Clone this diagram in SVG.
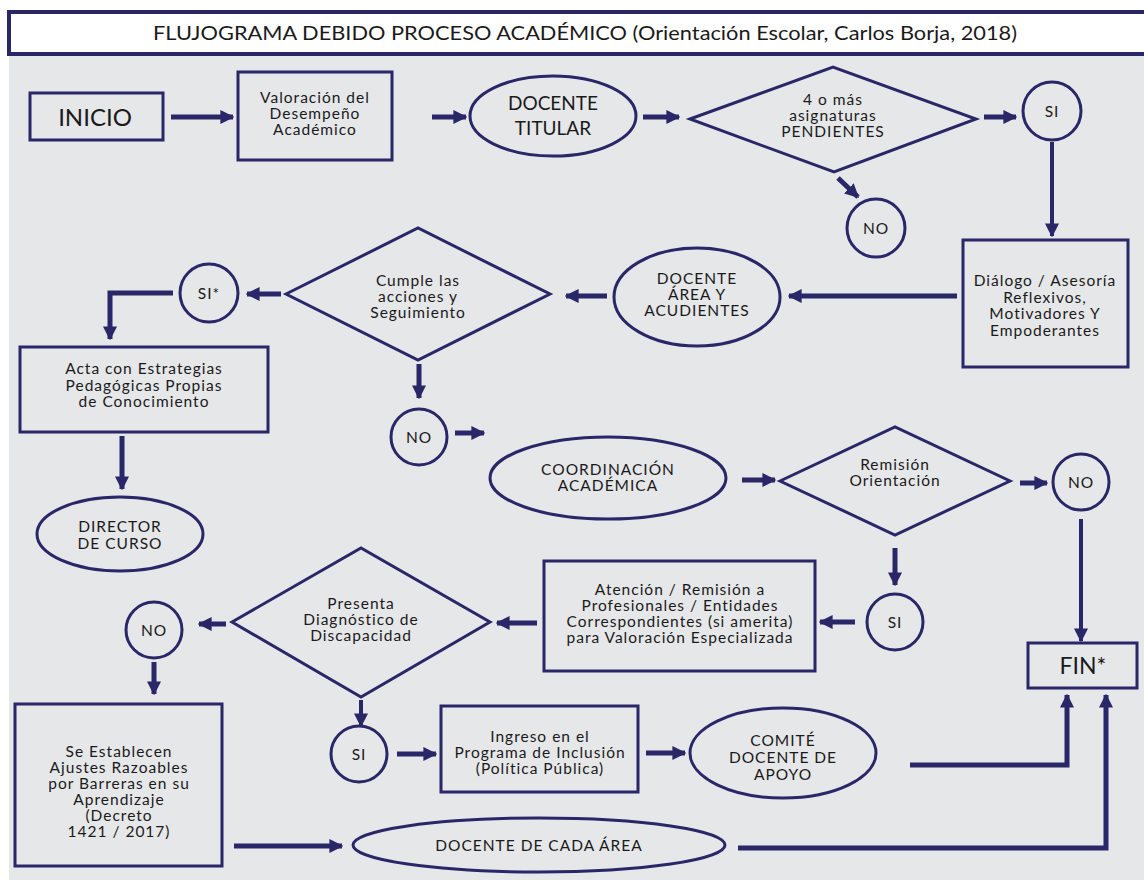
<svg xmlns="http://www.w3.org/2000/svg" width="1144" height="880" viewBox="0 0 1144 880">
<style>
.n{fill:none;stroke:#2a2768;stroke-width:3}
.t{font-family:Lato,"Open Sans","Liberation Sans",sans-serif;font-size:15.5px;letter-spacing:1px;fill:#1a1a1a;text-anchor:middle}
.b{font-size:19px;letter-spacing:0}
.c{fill:none;stroke:#2a2768;stroke-width:5}
.c4{fill:none;stroke:#2a2768;stroke-width:4}
</style>
<defs>
<marker id="a" viewBox="0 0 10 10" refX="9" refY="5" markerUnits="userSpaceOnUse" markerWidth="14" markerHeight="14" orient="auto"><path d="M0,0 L10,5 L0,10 z" fill="#2a2768"/></marker>
</defs>
<rect x="0" y="0" width="1144" height="880" fill="#ffffff"/>
<rect x="9" y="54" width="1140" height="830" fill="#e6e7e9"/>
<g id="title">
<rect x="9" y="12" width="1140" height="42" fill="#ffffff" stroke="#2a2768" stroke-width="4"/>
<text x="585" y="40" class="t" style="font-size:20px;letter-spacing:0" textLength="864" lengthAdjust="spacingAndGlyphs">FLUJOGRAMA DEBIDO PROCESO ACADÉMICO (Orientación Escolar, Carlos Borja, 2018)</text>
</g>
<g id="connectors">
<line x1="171" y1="117" x2="233" y2="117" class="c" marker-end="url(#a)"/>
<line x1="432" y1="117" x2="466" y2="117" class="c" marker-end="url(#a)"/>
<line x1="643" y1="117" x2="679" y2="117" class="c" marker-end="url(#a)"/>
<line x1="984" y1="117" x2="1016" y2="117" class="c" marker-end="url(#a)"/>
<line x1="838" y1="178" x2="858" y2="197" class="c" marker-end="url(#a)"/>
<line x1="1052" y1="142" x2="1052" y2="236" class="c4" marker-end="url(#a)"/>
<line x1="957" y1="296" x2="789" y2="296" class="c" marker-end="url(#a)"/>
<line x1="607" y1="296" x2="566" y2="296" class="c" marker-end="url(#a)"/>
<line x1="281" y1="294" x2="247" y2="294" class="c" marker-end="url(#a)"/>
<polyline points="173,293 110,293 110,339" class="c" marker-end="url(#a)"/>
<line x1="419" y1="364" x2="419" y2="398" class="c" marker-end="url(#a)"/>
<line x1="122" y1="436" x2="122" y2="489" class="c" marker-end="url(#a)"/>
<line x1="455" y1="433" x2="484" y2="433" class="c" marker-end="url(#a)"/>
<line x1="742" y1="480" x2="775" y2="480" class="c" marker-end="url(#a)"/>
<line x1="1020" y1="483" x2="1047" y2="483" class="c" marker-end="url(#a)"/>
<line x1="1081" y1="519" x2="1081" y2="641" class="c4" marker-end="url(#a)"/>
<line x1="895" y1="548" x2="895" y2="585" class="c" marker-end="url(#a)"/>
<line x1="855" y1="622" x2="820" y2="622" class="c" marker-end="url(#a)"/>
<line x1="537" y1="623" x2="497" y2="623" class="c" marker-end="url(#a)"/>
<line x1="226" y1="624" x2="199" y2="624" class="c" marker-end="url(#a)"/>
<line x1="154" y1="662" x2="154" y2="694" class="c" marker-end="url(#a)"/>
<line x1="361" y1="700" x2="361" y2="726" class="c4" marker-end="url(#a)"/>
<line x1="397" y1="754" x2="436" y2="754" class="c" marker-end="url(#a)"/>
<line x1="646" y1="753" x2="685" y2="753" class="c" marker-end="url(#a)"/>
<polyline points="910,765 1067,765 1067,695" class="c" marker-end="url(#a)"/>
<line x1="234" y1="846" x2="342" y2="846" class="c" marker-end="url(#a)"/>
<polyline points="738,848 1106,848 1106,695" class="c" marker-end="url(#a)"/>
</g>
<g id="inicio"><rect x="30" y="93" width="133" height="47" class="n"/><text x="95" y="126" class="t" style="font-size:24px;letter-spacing:0">INICIO</text></g>
<g id="valoracion"><rect x="238" y="72" width="154" height="88" class="n"/><text class="t" x="315"><tspan x="315" y="103">Valoración del</tspan><tspan x="315" y="119">Desempeño</tspan><tspan x="315" y="135">Académico</tspan></text></g>
<g id="docente-titular"><ellipse cx="553" cy="116" rx="83" ry="40" class="n"/><text class="t b" x="553"><tspan x="553" y="110">DOCENTE</tspan><tspan x="553" y="135">TITULAR</tspan></text></g>
<g id="dec-pendientes"><polygon points="690,119 833,67 976,119 834,172" class="n"/><text class="t" x="833"><tspan x="833" y="105">4 o más</tspan><tspan x="833" y="121">asignaturas</tspan><tspan x="833" y="137">PENDIENTES</tspan></text></g>
<g id="si1"><circle cx="1052" cy="111" r="29" class="n"/><text x="1052" y="117" class="t">SI</text></g>
<g id="no1"><circle cx="876" cy="228" r="29" class="n"/><text x="876" y="234" class="t">NO</text></g>
<g id="dialogo"><rect x="963" y="240" width="165" height="127" class="n"/><text class="t" x="1045"><tspan x="1045" y="286">Diálogo / Asesoría</tspan><tspan x="1045" y="302.5">Reflexivos,</tspan><tspan x="1045" y="319">Motivadores Y</tspan><tspan x="1045" y="335.5">Empoderantes</tspan></text></g>
<g id="docente-area"><ellipse cx="697" cy="297" rx="83" ry="49" class="n"/><text class="t" x="697"><tspan x="697" y="284">DOCENTE</tspan><tspan x="697" y="300">ÁREA Y</tspan><tspan x="697" y="316">ACUDIENTES</tspan></text></g>
<g id="dec-cumple"><polygon points="286,294 418,228 550,294 418,360" class="n"/><text class="t" x="418"><tspan x="418" y="286">Cumple las</tspan><tspan x="418" y="302">acciones y</tspan><tspan x="418" y="318">Seguimiento</tspan></text></g>
<g id="si-star"><circle cx="209" cy="293" r="29" class="n"/><text x="209" y="299" class="t">SI*</text></g>
<g id="acta"><rect x="20" y="347" width="248" height="85" class="n"/><text class="t" x="144"><tspan x="144" y="374">Acta con Estrategias</tspan><tspan x="144" y="390.5">Pedagógicas Propias</tspan><tspan x="144" y="407">de Conocimiento</tspan></text></g>
<g id="director"><ellipse cx="120" cy="534" rx="83" ry="37" class="n"/><text class="t" x="120"><tspan x="120" y="532">DIRECTOR</tspan><tspan x="120" y="549">DE CURSO</tspan></text></g>
<g id="no2"><circle cx="419" cy="437" r="28" class="n"/><text x="419" y="443" class="t">NO</text></g>
<g id="coordinacion"><ellipse cx="608" cy="478" rx="118" ry="41" class="n"/><text class="t" x="608"><tspan x="608" y="475">COORDINACIÓN</tspan><tspan x="608" y="491">ACADÉMICA</tspan></text></g>
<g id="dec-remision"><polygon points="780,481 895,427 1010,481 895,535" class="n"/><text class="t" x="895"><tspan x="895" y="470">Remisión</tspan><tspan x="895" y="486">Orientación</tspan></text></g>
<g id="no3"><circle cx="1081" cy="482" r="28" class="n"/><text x="1081" y="488" class="t">NO</text></g>
<g id="fin"><rect x="1028" y="643" width="109" height="45" class="n"/><text x="1083" y="674" class="t" style="font-size:23px;letter-spacing:0">FIN*</text></g>
<g id="si2"><circle cx="895" cy="622" r="28" class="n"/><text x="895" y="628" class="t">SI</text></g>
<g id="atencion"><rect x="544" y="561" width="271" height="110" class="n"/><text class="t" x="680"><tspan x="680" y="595">Atención /  Remisión a</tspan><tspan x="680" y="611">Profesionales / Entidades</tspan><tspan x="680" y="627">Correspondientes (si amerita)</tspan><tspan x="680" y="643">para Valoración Especializada</tspan></text></g>
<g id="dec-diagnostico"><polygon points="232,622 361,548 490,622 361,697" class="n"/><text class="t" x="361"><tspan x="361" y="609">Presenta</tspan><tspan x="361" y="625">Diagnóstico de</tspan><tspan x="361" y="641">Discapacidad</tspan></text></g>
<g id="no4"><circle cx="154" cy="630" r="28" class="n"/><text x="154" y="636" class="t">NO</text></g>
<g id="ajustes"><rect x="15" y="704" width="207" height="162" class="n"/><text class="t" x="119"><tspan x="119" y="757">Se Establecen</tspan><tspan x="119" y="773">Ajustes Razoables</tspan><tspan x="119" y="789">por Barreras en su</tspan><tspan x="119" y="805">Aprendizaje</tspan><tspan x="119" y="821">(Decreto</tspan><tspan x="119" y="837">1421 / 2017)</tspan></text></g>
<g id="si3"><circle cx="359" cy="754" r="28" class="n"/><text x="359" y="760" class="t">SI</text></g>
<g id="ingreso"><rect x="441" y="706" width="197" height="86" class="n"/><text class="t" x="540"><tspan x="540" y="742">Ingreso en el</tspan><tspan x="540" y="758">Programa de Inclusión</tspan><tspan x="540" y="774">(Política Pública)</tspan></text></g>
<g id="comite"><ellipse cx="783" cy="753" rx="93" ry="45" class="n"/><text class="t" x="783"><tspan x="783" y="746">COMITÉ</tspan><tspan x="783" y="763">DOCENTE DE</tspan><tspan x="783" y="780">APOYO</tspan></text></g>
<g id="docente-cada"><ellipse cx="539" cy="845" rx="186" ry="27" class="n"/><text x="539" y="851" class="t">DOCENTE DE CADA ÁREA</text></g>
</svg>
